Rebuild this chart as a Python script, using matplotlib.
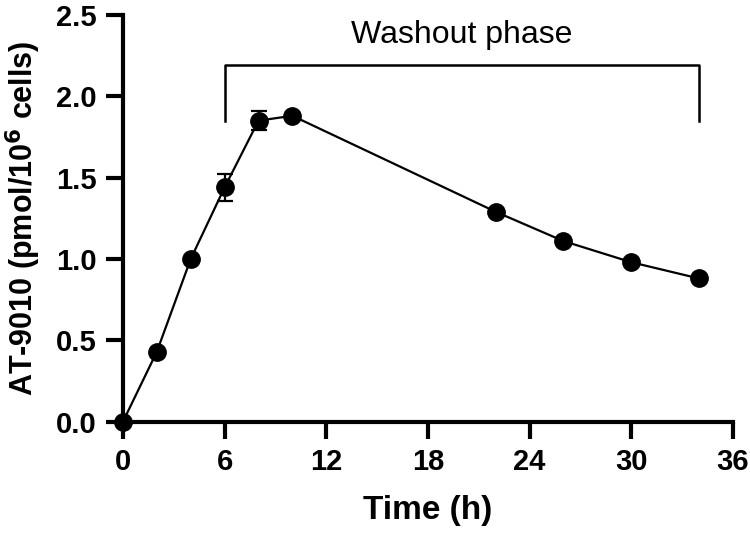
import numpy as np
import matplotlib
matplotlib.use("Agg")
import matplotlib.pyplot as plt

plt.rcParams['font.family'] = ['Liberation Sans', 'DejaVu Sans']
plt.rcParams['font.weight'] = 'bold'
plt.rcParams['mathtext.default'] = 'bf'

time_h = [0, 2, 4, 6, 8, 10, 22, 26, 30, 34]
conc = [0.0, 0.43, 1.0, 1.44, 1.85, 1.88, 1.29, 1.11, 0.98, 0.88]
# SD only shown where visible
err_t = [6, 8]
err_mean = [1.44, 1.85]
err_sd = [0.085, 0.06]

x_ticks = [0, 6, 12, 18, 24, 30, 36]
y_ticks = [0.0, 0.5, 1.0, 1.5, 2.0, 2.5]

bracket_x = [6, 34]
bracket_top = 2.19
bracket_low = 1.85

fig = plt.figure(figsize=(7.5, 5.33), dpi=100)
ax = fig.add_axes([0.164, 0.209, 0.813, 0.763])

ax.errorbar(err_t, err_mean, yerr=err_sd, fmt='none', ecolor='black',
            elinewidth=1.6, capsize=5.5, capthick=1.6, zorder=2)
ax.plot(time_h, conc, 'o-', color='black', ms=12.5, lw=1.6, clip_on=False, zorder=3)

# washout bracket
ax.plot([bracket_x[0], bracket_x[0], bracket_x[1], bracket_x[1]],
        [bracket_low, bracket_top, bracket_top, bracket_low], color='black', lw=1.8)
ax.text(np.mean(bracket_x), 2.33, "Washout phase", ha='center', va='baseline',
        fontsize=23, fontweight='normal')

ax.set_xlim(0, 36)
ax.set_ylim(0, 2.5)
ax.set_xticks(x_ticks)
ax.set_yticks(y_ticks)
ax.set_yticklabels([f"{v:.1f}" for v in y_ticks])
ax.tick_params(labelsize=21, width=3, length=12, pad=7)
for s in ['top', 'right']:
    ax.spines[s].set_visible(False)
for s in ['left', 'bottom']:
    ax.spines[s].set_linewidth(3)

ax.set_xlabel("Time (h)", fontsize=24, fontweight='bold')
ax.xaxis.set_label_coords(0.5, -0.218)
ax.xaxis.label.set_va('center')
ax.set_ylabel(r"AT-9010 (pmol/10$^\mathbf{6}$ cells)", fontsize=22, fontweight='bold')
ax.yaxis.set_label_coords(-0.163, 0.5)
ax.yaxis.label.set_va('center')

fig.savefig("out.png", dpi=100)
